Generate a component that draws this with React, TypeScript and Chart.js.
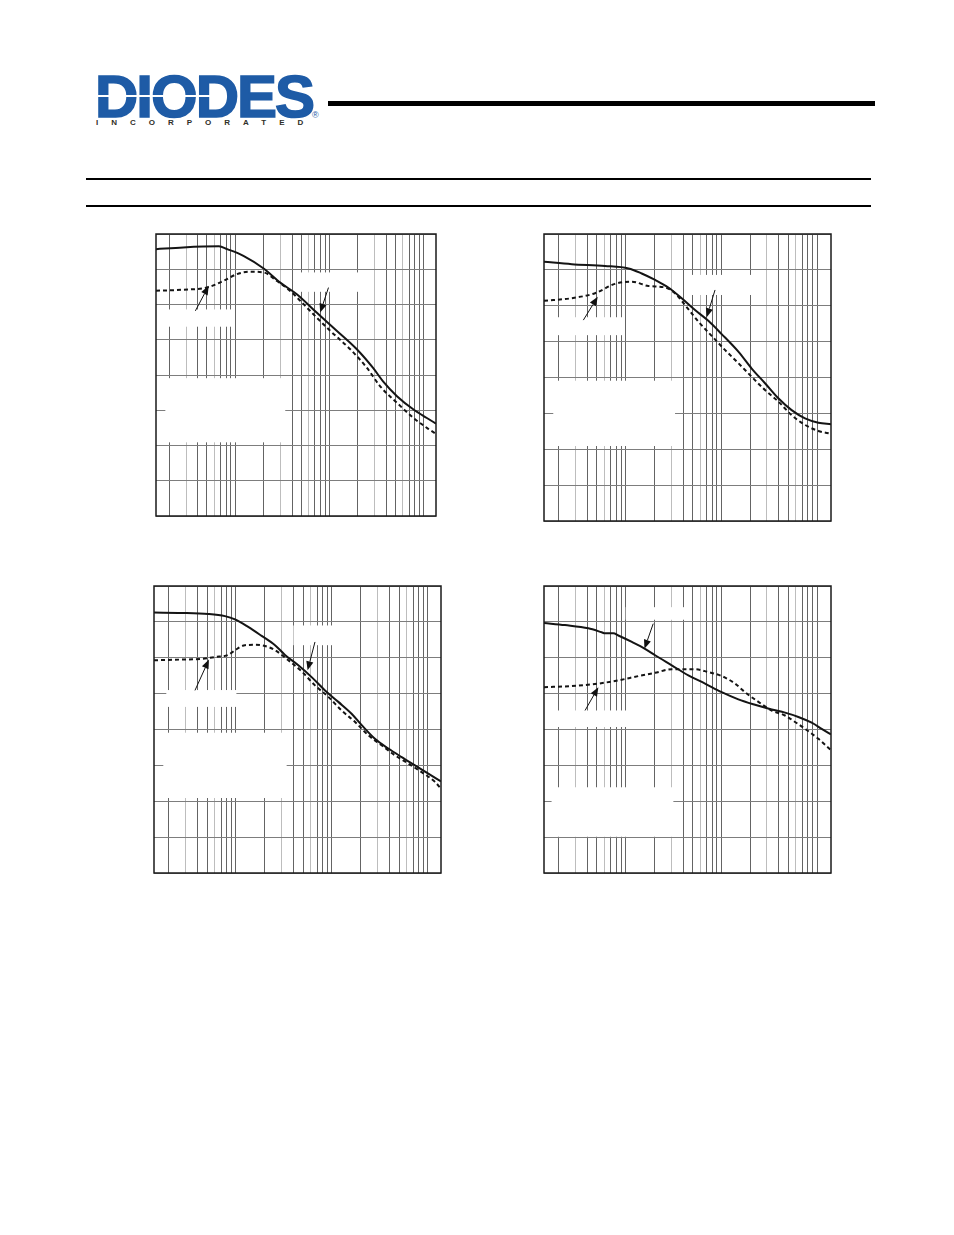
import React, { useEffect, useRef } from "react";
import { Chart, registerables } from "chart.js";

Chart.register(...registerables);

// ---------- shared axis definition ----------
const X_GRID = [2, 3, 4, 5, 6, 7, 8, 9, 10, 20, 30, 40, 50, 60, 70, 80, 90, 100, 200, 300, 400, 500, 600, 700, 800, 900, 1000];
const X_LIGHT_MANTISSA = [3, 6];
const Y_MIN = 0;
const Y_MAX = 80;
const Y_STEP = 10;

// ---------- chart 1 ----------
const c1SolidX = [1.44, 2.8, 6.7, 8.2, 12.2, 20, 30, 45, 73, 120, 195, 290, 370, 520, 780, 1080, 1350];
const c1SolidY = [75.7, 76.2, 76.5, 75.7, 73.8, 70.2, 66.2, 62.9, 57.7, 52.5, 47.3, 42.0, 38.2, 34.0, 30.2, 27.8, 26.2];
const c1DashX = [1.44, 2.8, 5.0, 7.5, 10.4, 14.4, 20, 27.6, 38, 53, 73, 102, 166, 250, 345, 520, 780, 1080, 1350];
const c1DashY = [63.9, 64.2, 64.8, 66.7, 68.6, 69.3, 69.1, 66.7, 63.9, 60.1, 56.3, 52.5, 47.3, 42.0, 36.8, 32.1, 27.8, 25.0, 23.3];
const c1Arrows = [[3.77, 58.2, 5.22, 65.3], [97.5, 64.8, 79.6, 57.7]];
const c1Masks = [[1.44, 9.6, 58.6, 53.7], [43.3, 259, 69.1, 63.6], [1.81, 33.9, 39.1, 20.9]];

// ---------- chart 2 ----------
const c2SolidX = [1.4, 2.73, 6.08, 10.7, 14.7, 20.3, 27.9, 38.5, 53.1, 73.1, 100.8, 150.6, 207.5, 286, 394, 543, 749, 1033, 1400];
const c2SolidY = [72.3, 71.6, 71.1, 70.4, 69.0, 67.2, 65.1, 62.1, 58.8, 55.8, 52.1, 47.2, 42.5, 38.4, 34.2, 30.9, 28.6, 27.4, 27.0];
const c2DashX = [1.4, 2.73, 4.78, 7.74, 11.6, 17.3, 25.8, 32.8, 41.7, 57.5, 79.2, 109, 150.6, 207.5, 286, 394, 543, 749, 1033, 1400];
const c2DashY = [61.4, 62.1, 63.5, 66.1, 66.7, 65.5, 65.1, 63.5, 60.2, 55.6, 51.6, 47.7, 44.0, 40.2, 36.5, 33.3, 29.5, 26.8, 25.1, 24.3];
const c2Arrows = [[3.61, 56.0, 5.1, 62.5], [85.9, 64.4, 70.3, 56.8]];
const c2Masks = [[1.4, 9.43, 56.8, 51.8], [41.7, 243.6, 68.6, 63.0], [1.75, 32.8, 39.1, 20.9]];

// ---------- chart 3 ----------
const c3SolidX = [1.4, 2.72, 5.15, 7.68, 9.77, 13.4, 18.5, 25.5, 32.4, 44.6, 61.4, 84.6, 116.4, 160, 204, 280, 386, 532, 732, 1008, 1366];
const c3SolidY = [72.6, 72.5, 72.2, 71.6, 70.7, 68.6, 66.1, 63.5, 60.8, 57.9, 54.6, 50.9, 47.7, 44.4, 41.2, 37.4, 34.7, 32.3, 30.0, 27.7, 25.5];
const c3DashX = [1.4, 2.72, 4.39, 6.04, 8.32, 9.77, 12.4, 15.8, 20.0, 25.5, 35.1, 48.3, 66.5, 91.6, 126, 174, 239, 329, 453, 624, 859, 1183, 1366];
const c3DashY = [59.3, 59.5, 59.7, 60.2, 60.8, 62.1, 63.5, 63.6, 63.3, 62.1, 59.3, 56.2, 52.3, 49.1, 45.3, 42.1, 38.4, 35.6, 32.8, 30.5, 28.1, 25.4, 23.5];
const c3Arrows = [[3.74, 50.9, 5.23, 59.5], [66.5, 64.4, 55.7, 56.5]];
const c3Masks = [[1.88, 10.1, 51.0, 46.3], [39.6, 107.5, 69.0, 63.5], [1.75, 33.7, 39.1, 20.9]];

// ---------- chart 4 ----------
const c4SolidX = [1.4, 2.32, 4.07, 5.61, 6.08, 7.43, 8.38, 11.6, 15.9, 20.3, 30.3, 45.2, 67.5, 100.8, 150.6, 225, 336, 463, 638, 879, 1119, 1400];
const c4SolidY = [69.7, 69.1, 68.2, 67.1, 66.8, 66.8, 66.2, 64.4, 62.5, 60.7, 57.9, 55.1, 52.8, 50.4, 48.4, 46.9, 45.6, 44.7, 43.5, 41.9, 40.2, 38.6];
const c4DashX = [1.4, 2.73, 5.18, 8.38, 13.6, 20.3, 30.3, 41.7, 53.1, 73.1, 100.8, 139, 176.7, 244, 336, 463, 589, 749, 1033, 1400];
const c4DashY = [51.8, 52.1, 52.8, 53.7, 54.9, 55.8, 56.8, 56.8, 56.8, 56.0, 54.9, 52.8, 50.4, 47.7, 45.3, 43.9, 42.1, 40.2, 37.4, 34.2];
const c4Arrows = [[3.76, 45.3, 5.18, 51.8], [19.4, 69.5, 15.7, 62.5]];
const c4Masks = [[1.88, 10.2, 45.3, 40.7], [10, 41.7, 74.1, 70.6], [1.68, 31.5, 23.9, 10.1]];

type Props = {
  left: number;
  top: number;
  width: number;
  height: number;
  xMin: number;
  xMax: number;
  solidX: number[];
  solidY: number[];
  dashX: number[];
  dashY: number[];
  arrows: number[][];
  masks: number[][];
};

const PAD = 4;

function mantissa(v: number) {
  return Math.round(v / Math.pow(10, Math.floor(Math.log10(v) + 1e-9)));
}

function Plot(p: Props) {
  const ref = useRef<HTMLCanvasElement>(null);
  useEffect(() => {
    const overlay = {
      id: "overlay",
      beforeDatasetsDraw(chart: any) {
        const { ctx, scales } = chart;
        const xs = scales.x;
        const ys = scales.y;
        ctx.save();
        ctx.fillStyle = "#ffffff";
        p.masks.forEach(([x0, x1, y0, y1]) => {
          const a = xs.getPixelForValue(x0);
          const b = xs.getPixelForValue(x1);
          const c = ys.getPixelForValue(y0);
          const d = ys.getPixelForValue(y1);
          ctx.fillRect(a, c, b - a, d - c);
        });
        ctx.restore();
      },
      afterDatasetsDraw(chart: any) {
        const { ctx, scales } = chart;
        const xs = scales.x;
        const ys = scales.y;
        ctx.save();
        ctx.strokeStyle = "#111";
        ctx.fillStyle = "#111";
        ctx.lineWidth = 1;
        p.arrows.forEach(([x0, y0, x1, y1]) => {
          const ax = xs.getPixelForValue(x0);
          const ay = ys.getPixelForValue(y0);
          const bx = xs.getPixelForValue(x1);
          const by = ys.getPixelForValue(y1);
          const ang = Math.atan2(by - ay, bx - ax);
          const L = 9;
          const W = 3.6;
          const hx = bx - L * Math.cos(ang);
          const hy = by - L * Math.sin(ang);
          ctx.beginPath();
          ctx.moveTo(ax, ay);
          ctx.lineTo(hx, hy);
          ctx.stroke();
          ctx.beginPath();
          ctx.moveTo(bx, by);
          ctx.lineTo(hx + W * Math.sin(ang), hy - W * Math.cos(ang));
          ctx.lineTo(hx - W * Math.sin(ang), hy + W * Math.cos(ang));
          ctx.closePath();
          ctx.fill();
        });
        ctx.restore();
      },
      afterDraw(chart: any) {
        const { ctx, chartArea } = chart;
        ctx.save();
        ctx.strokeStyle = "#1a1a1a";
        ctx.lineWidth = 1.5;
        ctx.strokeRect(chartArea.left, chartArea.top, chartArea.right - chartArea.left, chartArea.bottom - chartArea.top);
        ctx.restore();
      },
    };

    const chart = new Chart(ref.current as HTMLCanvasElement, {
      type: "line",
      data: {
        datasets: [
          {
            data: p.solidX.map((x, i) => ({ x, y: p.solidY[i] })),
            borderColor: "#141414",
            borderWidth: 2,
            pointRadius: 0,
            fill: false,
            cubicInterpolationMode: "monotone",
          },
          {
            data: p.dashX.map((x, i) => ({ x, y: p.dashY[i] })),
            borderColor: "#141414",
            borderWidth: 2,
            borderDash: [4, 3],
            pointRadius: 0,
            fill: false,
            cubicInterpolationMode: "monotone",
          },
        ],
      },
      options: {
        responsive: false,
        animation: false,
        devicePixelRatio: 1,
        layout: { padding: PAD },
        events: [],
        plugins: { legend: { display: false }, tooltip: { enabled: false } },
        scales: {
          x: {
            type: "logarithmic",
            min: p.xMin,
            max: p.xMax,
            afterBuildTicks: (s: any) => {
              s.ticks = X_GRID.filter((v) => v > p.xMin && v < p.xMax).map((v) => ({ value: v }));
            },
            ticks: { display: false },
            grid: {
              drawTicks: false,
              lineWidth: 1,
              color: (c: any) =>
                c.tick && X_LIGHT_MANTISSA.includes(mantissa(c.tick.value)) ? "#bdbdbd" : "#646464",
            },
            border: { display: false },
          },
          y: {
            type: "linear",
            min: Y_MIN,
            max: Y_MAX,
            ticks: { display: false, stepSize: Y_STEP },
            grid: { drawTicks: false, color: "#7d7d7d", lineWidth: 1 },
            border: { display: false },
          },
        },
      } as any,
      plugins: [overlay as any],
    });
    return () => chart.destroy();
  }, []);
  return (
    <canvas
      ref={ref}
      width={p.width + 2 * PAD}
      height={p.height + 2 * PAD}
      style={{ position: "absolute", left: p.left - PAD, top: p.top - PAD, width: p.width + 2 * PAD, height: p.height + 2 * PAD }}
    />
  );
}

export default function App() {
  return (
    <div style={{ position: "absolute", left: 0, top: 0, width: 954, height: 1235, background: "#fff", overflow: "hidden" }}>
      {/* logo */}
      <div
        style={{
          position: "absolute",
          left: 95,
          top: 67,
          fontFamily: "'Liberation Sans', Arial, sans-serif",
          fontWeight: 700,
          fontSize: 60,
          lineHeight: "60px",
          color: "#1e5ba6",
          WebkitTextStroke: "1.6px #1e5ba6",
          letterSpacing: -2,
          transform: "scaleX(1.0)",
          transformOrigin: "left top",
          whiteSpace: "nowrap",
        }}
      >
        DIODES
      </div>
      <div style={{ position: "absolute", left: 95, top: 95, width: 122, height: 2, background: "#fff" }} />
      <div
        style={{
          position: "absolute",
          left: 312,
          top: 111,
          fontFamily: "'Liberation Sans', Arial, sans-serif",
          fontSize: 9,
          lineHeight: "9px",
          color: "#1e5ba6",
        }}
      >
        ®
      </div>
      <div
        style={{
          position: "absolute",
          left: 96,
          top: 118,
          fontFamily: "'Liberation Sans', Arial, sans-serif",
          fontWeight: 700,
          fontSize: 8,
          lineHeight: "9px",
          color: "#2f2f28",
          letterSpacing: 13,
          whiteSpace: "nowrap",
        }}
      >
        INCORPORATED
      </div>
      {/* header rules */}
      <div style={{ position: "absolute", left: 328, top: 101, width: 547, height: 5, background: "#000" }} />
      <div style={{ position: "absolute", left: 86, top: 178, width: 785, height: 2, background: "#000" }} />
      <div style={{ position: "absolute", left: 86, top: 205, width: 785, height: 2, background: "#000" }} />

      <Plot left={156} top={234} width={280} height={282} xMin={1.44} xMax={1350}
        solidX={c1SolidX} solidY={c1SolidY} dashX={c1DashX} dashY={c1DashY} arrows={c1Arrows} masks={c1Masks} />
      <Plot left={544} top={234} width={287} height={287} xMin={1.4} xMax={1400}
        solidX={c2SolidX} solidY={c2SolidY} dashX={c2DashX} dashY={c2DashY} arrows={c2Arrows} masks={c2Masks} />
      <Plot left={154} top={586} width={287} height={287} xMin={1.4} xMax={1366}
        solidX={c3SolidX} solidY={c3SolidY} dashX={c3DashX} dashY={c3DashY} arrows={c3Arrows} masks={c3Masks} />
      <Plot left={544} top={586} width={287} height={287} xMin={1.4} xMax={1400}
        solidX={c4SolidX} solidY={c4SolidY} dashX={c4DashX} dashY={c4DashY} arrows={c4Arrows} masks={c4Masks} />
    </div>
  );
}
